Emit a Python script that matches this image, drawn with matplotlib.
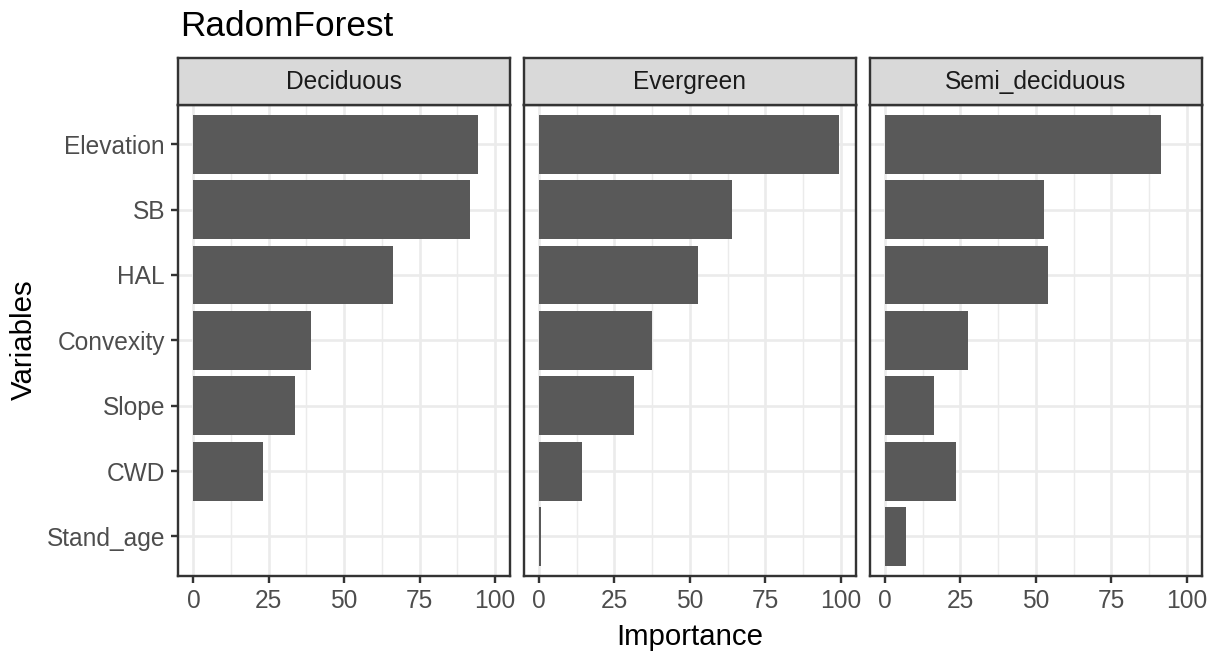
# Random forest variable importance, faceted by forest type
import matplotlib.pyplot as plt, numpy as np

plt.rcParams['font.family'] = ['Liberation Sans', 'DejaVu Sans']

variables = ["Elevation", "SB", "HAL", "Convexity", "Slope", "CWD", "Stand_age"]
facets = ["Deciduous", "Evergreen", "Semi_deciduous"]
deciduous = [94.3, 91.7, 66.3, 39.0, 33.7, 23.1, 0.0]
evergreen = [99.6, 63.9, 52.6, 37.4, 31.5, 14.2, 0.5]
semi_deciduous = [91.5, 52.6, 53.9, 27.5, 16.3, 23.5, 7.0]
values = [deciduous, evergreen, semi_deciduous]
xticks = [0, 25, 50, 75, 100]

W, H, DPI = 1216, 651, 192
fig = plt.figure(figsize=(W/DPI, H/DPI), dpi=DPI)

bottom = 1 - 575.7/H
height = (575.7 - 105)/H
strip_h = (105 - 58.3)/H
lefts = [178.3, 524, 870]
pw = 331.7/W
dark = "#333333"
ypos = np.arange(len(variables))

for i, (name, vals) in enumerate(zip(facets, values)):
    ax = fig.add_axes([lefts[i]/W, bottom, pw, height])
    ax.barh(ypos, vals, height=0.9, color="#595959", zorder=2)
    ax.set_xlim(-5, 105)
    ax.set_ylim(len(variables) - 0.4, -0.6)
    ax.set_xticks(xticks)
    ax.set_xticks(np.arange(12.5, 100, 25), minor=True)
    ax.set_yticks(ypos)
    ax.grid(True, which="major", color="#EBEBEB", lw=1.0, zorder=0)
    ax.grid(True, which="minor", axis="x", color="#EBEBEB", lw=0.55, zorder=0)
    ax.set_axisbelow(True)
    ax.tick_params(which="minor", length=0)
    ax.tick_params(which="major", length=2.75, width=0.9, color=dark,
                   labelsize=9.2, labelcolor="#4D4D4D", pad=2.2)
    if i == 0:
        ax.set_yticklabels(variables)
    else:
        ax.tick_params(axis="y", length=0, labelleft=False)
    for s in ax.spines.values():
        s.set_color(dark)
        s.set_linewidth(0.9)

    st = fig.add_axes([lefts[i]/W, bottom + height, pw, strip_h])
    st.set_facecolor("#D9D9D9")
    st.set_xticks([])
    st.set_yticks([])
    for s in st.spines.values():
        s.set_color(dark)
        s.set_linewidth(0.9)
    st.text(0.5, 0.5, name, ha="center", va="center", fontsize=9.2,
            color="#1A1A1A", transform=st.transAxes)

fig.text(180/W, 1 - 36/H, "RadomForest", fontsize=13.2, ha="left", va="baseline")
fig.text((178.3 + 1201.7)/2/W, 1 - 645/H, "Importance", fontsize=11,
         ha="center", va="baseline")
fig.text(24/W, 1 - 340/H, "Variables", fontsize=11, rotation=90,
         ha="center", va="center")

fig.savefig("out.png", dpi=DPI)
